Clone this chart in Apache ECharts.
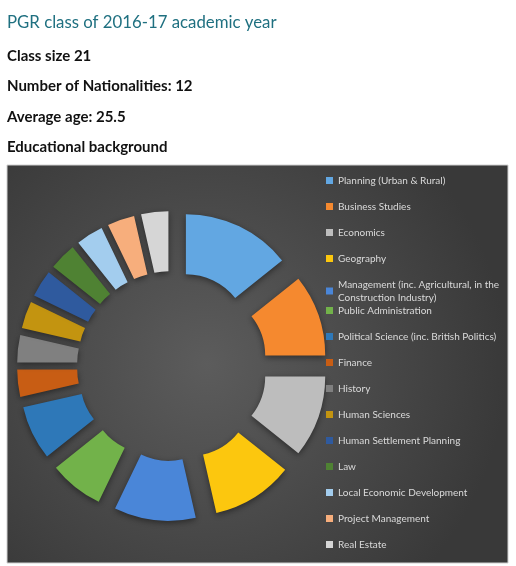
<!DOCTYPE html>
<html>
<head>
<meta charset="utf-8">
<script src="https://cdn.jsdelivr.net/npm/echarts@6/dist/echarts.min.js"></script>
<style>
  html, body { margin: 0; padding: 0; background: #fff; }
  #chart { width: 516px; height: 566px; }
</style>
</head>
<body>
<div id="chart"></div>
<script>
// headline facts shown above the chart
var headLines = ['Class size 21', 'Number of Nationalities: 12', 'Average age: 25.5', 'Educational background'];

// educational background of the class
var subjects = [
  'Planning (Urban & Rural)', 'Business Studies', 'Economics', 'Geography',
  'Management (inc. Agricultural, in the Construction Industry)', 'Public Administration',
  'Political Science (inc. British Politics)', 'Finance', 'History', 'Human Sciences',
  'Human Settlement Planning', 'Law', 'Local Economic Development', 'Project Management', 'Real Estate'
];
var counts = [4, 3, 3, 3, 3, 2, 2, 1, 1, 1, 1, 1, 1, 1, 1];
var colors = ['#62a7e2', '#f5892f', '#bdbdbd', '#fcc70e', '#4a86d8', '#72b24a', '#2e78b8',
              '#c85d14', '#808080', '#c39410', '#2f5a9e', '#4f8233', '#a3cdee', '#f7ae7c', '#d6d6d6'];

document.addEventListener("DOMContentLoaded", () => {
    var chart = echarts.init(document.getElementById('chart'));

    var titles = [{
        text: 'PGR class of 2016-17 academic year',
        left: 7, top: 14, padding: 0,
        textStyle: { fontFamily: 'Lato', fontSize: 16.8, fontWeight: 'normal', color: '#1f7080' }
    }];
    var lineTops = [49, 79, 110, 140];
    headLines.forEach(function (t, i) {
        titles.push({
            text: t, left: 7, top: lineTops[i], padding: 0,
            textStyle: { fontFamily: 'Lato', fontSize: 15, fontWeight: 'bold', color: '#111' }
        });
    });

    var legendText = {
        color: '#dadada', fontFamily: 'Lato', fontSize: 10, lineHeight: 13
    };

    chart.setOption({
        animation: false,
        title: titles,
        graphic: [{
            type: 'rect',
            shape: { x: 7, y: 165, width: 501, height: 398 },
            style: {
                fill: new echarts.graphic.RadialGradient(0.4, 0.5, 0.75, [
                    { offset: 0, color: '#5c5c5c' },
                    { offset: 1, color: '#393939' }
                ]),
                stroke: '#d0d0d0', lineWidth: 1
            },
            z: -10
        }],
        legend: [{
            orient: 'vertical', left: 326, top: 174, padding: 0,
            itemWidth: 7, itemHeight: 7, itemGap: 13, icon: 'rect',
            selectedMode: false,
            data: subjects.slice(0, 5),
            formatter: function (name) {
                return name.replace(', in the ', ', in the\n');
            },
            textStyle: legendText
        }, {
            orient: 'vertical', left: 326, top: 304, padding: 0,
            itemWidth: 7, itemHeight: 7, itemGap: 13, icon: 'rect',
            selectedMode: false,
            data: subjects.slice(5),
            textStyle: legendText
        }],
        series: [{
            type: 'pie',
            center: [172, 366],
            radius: [63, 123],
            startAngle: 90,
            clockwise: true,
            selectedMode: 'multiple',
            selectedOffset: 32,
            label: { show: false },
            labelLine: { show: false },
            emphasis: { disabled: true },
            itemStyle: {
                shadowBlur: 6, shadowOffsetY: 2, shadowColor: 'rgba(0,0,0,0.45)'
            },
            data: subjects.map(function (s, i) {
                return { name: s, value: counts[i], selected: true, itemStyle: { color: colors[i] } };
            })
        }]
    });
});
</script>
</body>
</html>
